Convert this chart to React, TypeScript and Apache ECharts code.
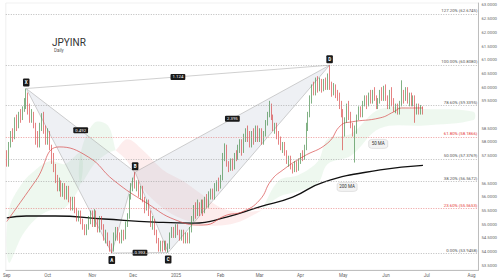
import React, { useEffect, useRef } from 'react';
import * as echarts from 'echarts';

// ---------- DATA ----------
// daily candles [open, close, low, high], from 2 Sep 2024 (weekdays)
const candles: number[][] = [
  [57.6, 57.2, 57.1, 57.7], [57.2, 57.9, 57.1, 58.0], [57.9, 58.3, 57.8, 58.4], [58.3, 58.2, 58.0, 58.5],
  [58.2, 58.8, 58.1, 58.9], [58.8, 58.6, 58.4, 59.0], [58.6, 59.0, 58.5, 59.1], [59.0, 58.9, 58.7, 59.2],
  [58.9, 59.2, 58.8, 59.3], [59.2, 59.5, 59.1, 59.6], [59.5, 59.7, 59.2, 59.95], [59.7, 59.2, 59.0, 59.8],
  [59.2, 58.9, 58.7, 59.4], [58.9, 59.0, 58.7, 59.2], [59.0, 58.6, 58.5, 59.1], [58.6, 58.1, 57.9, 58.7],
  [58.1, 57.9, 57.8, 58.4], [57.9, 58.6, 57.8, 58.7], [58.6, 59.0, 58.4, 59.05], [59.0, 58.4, 58.3, 59.1],
  [58.4, 58.0, 57.9, 58.6],
  [58.0, 58.3, 57.9, 58.5], [58.3, 57.8, 57.7, 58.4], [57.8, 57.4, 57.2, 57.9], [57.4, 57.1, 56.9, 57.6],
  [57.1, 56.6, 56.5, 57.2], [56.6, 56.4, 56.2, 56.8], [56.4, 56.5, 56.2, 56.7], [56.5, 56.2, 56.0, 56.6],
  [56.2, 56.4, 56.0, 56.5], [56.4, 56.1, 55.9, 56.5], [56.1, 56.3, 55.9, 56.4], [56.3, 55.9, 55.8, 56.4],
  [55.9, 55.7, 55.5, 56.0], [55.7, 55.9, 55.5, 56.0], [55.9, 55.5, 55.4, 56.0], [55.5, 55.3, 55.1, 55.6],
  [55.3, 55.4, 55.1, 55.5], [55.4, 55.1, 55.0, 55.5], [55.1, 54.9, 54.8, 55.2], [54.9, 54.7, 54.6, 55.0],
  [54.7, 54.85, 54.6, 55.0], [54.85, 55.2, 54.8, 55.3], [55.2, 55.4, 55.0, 55.5],
  [55.4, 55.0, 54.9, 55.5], [55.0, 55.4, 54.9, 55.55], [55.4, 55.1, 54.9, 55.5], [55.1, 54.8, 54.7, 55.2],
  [54.8, 55.2, 54.7, 55.3], [55.2, 54.9, 54.8, 55.3], [54.9, 54.5, 54.4, 55.0], [54.5, 54.6, 54.3, 54.8],
  [54.6, 54.3, 54.2, 54.7], [54.3, 54.15, 54.0, 54.4], [54.15, 54.1, 53.95, 54.3], [54.1, 54.6, 54.0, 54.7],
  [54.6, 54.8, 54.4, 54.9], [54.8, 54.5, 54.4, 54.9], [54.5, 54.4, 54.3, 54.7], [54.4, 54.7, 54.3, 54.8],
  [54.7, 54.5, 54.4, 54.8], [54.5, 55.0, 54.45, 55.1], [55.0, 55.3, 54.9, 55.4], [55.3, 56.0, 55.2, 56.1],
  [56.0, 56.3, 55.9, 56.5],
  [56.3, 56.6, 56.2, 56.7], [56.6, 56.4, 56.3, 56.9], [56.4, 56.5, 56.2, 56.6], [56.5, 56.1, 56.0, 56.6],
  [56.1, 56.3, 55.9, 56.4], [56.3, 55.9, 55.8, 56.4], [55.9, 55.6, 55.4, 56.0], [55.6, 55.8, 55.5, 55.9],
  [55.8, 55.4, 55.3, 55.9], [55.4, 55.0, 54.9, 55.5], [55.0, 55.1, 54.8, 55.3], [55.1, 54.7, 54.6, 55.2],
  [54.7, 54.4, 54.3, 54.8], [54.4, 54.1, 54.0, 54.5], [54.1, 54.3, 54.0, 54.4], [54.3, 54.1, 54.0, 54.4],
  [54.1, 54.3, 54.05, 54.4], [54.3, 54.1, 54.0, 54.4], [54.1, 54.2, 53.97, 54.3], [54.2, 54.6, 54.1, 54.7],
  [54.6, 54.8, 54.5, 54.9], [54.8, 54.6, 54.5, 54.9],
  [54.6, 54.9, 54.5, 55.0], [54.9, 54.7, 54.6, 55.0], [54.7, 54.5, 54.4, 54.8], [54.5, 54.7, 54.4, 54.8],
  [54.7, 54.45, 54.3, 54.8], [54.45, 54.6, 54.3, 54.7], [54.6, 54.4, 54.3, 54.7], [54.4, 54.8, 54.3, 54.9],
  [54.8, 55.2, 54.7, 55.3], [55.2, 55.6, 55.1, 55.7], [55.6, 55.4, 55.2, 55.8], [55.4, 55.7, 55.3, 55.9],
  [55.7, 55.5, 55.3, 55.8], [55.5, 55.8, 55.4, 55.9], [55.8, 55.5, 55.3, 55.9], [55.5, 55.9, 55.4, 56.0],
  [55.9, 55.7, 55.6, 56.1], [55.7, 56.0, 55.6, 56.2], [56.0, 56.2, 55.9, 56.3], [56.2, 56.0, 55.9, 56.3],
  [56.0, 56.3, 55.9, 56.5], [56.3, 56.5, 56.2, 56.6], [56.5, 56.4, 56.2, 56.7],
  [56.4, 56.7, 56.3, 56.8], [56.7, 57.5, 56.6, 57.6], [57.5, 57.8, 57.3, 57.95], [57.8, 57.2, 57.1, 57.9],
  [57.2, 57.0, 56.9, 57.3], [57.0, 57.3, 56.95, 57.4], [57.3, 57.1, 56.95, 57.4], [57.1, 57.5, 57.0, 57.6],
  [57.5, 57.4, 57.3, 57.7], [57.4, 57.8, 57.35, 57.9], [57.8, 58.0, 57.6, 58.1], [58.0, 57.7, 57.5, 58.1],
  [57.7, 58.1, 57.6, 58.3], [58.1, 58.4, 58.0, 58.5], [58.4, 58.2, 58.0, 58.6], [58.2, 57.9, 57.8, 58.4],
  [57.9, 58.3, 57.8, 58.4], [58.3, 58.1, 57.9, 58.5], [58.1, 58.5, 58.0, 58.6], [58.5, 58.2, 58.0, 58.6],
  [58.2, 58.4, 58.0, 58.5], [58.4, 58.0, 57.9, 58.5], [58.0, 58.3, 57.9, 58.4], [58.3, 58.7, 58.2, 58.8],
  [58.7, 59.0, 58.6, 59.1], [59.0, 59.3, 58.9, 59.5], [59.3, 58.9, 58.8, 59.4], [58.9, 58.5, 58.4, 59.0],
  [58.5, 58.6, 58.3, 58.7], [58.6, 58.2, 58.1, 58.7], [58.2, 58.0, 57.9, 58.4], [58.0, 57.8, 57.7, 58.2],
  [57.8, 57.9, 57.6, 58.0], [57.9, 57.6, 57.5, 58.0], [57.6, 57.3, 57.2, 57.7], [57.3, 57.4, 57.1, 57.5],
  [57.4, 57.1, 57.0, 57.5], [57.1, 57.0, 56.85, 57.2], [57.0, 57.2, 56.9, 57.3], [57.2, 57.0, 56.9, 57.3],
  [57.0, 57.3, 56.95, 57.4],
  [57.3, 57.5, 57.2, 57.6], [57.5, 57.4, 57.3, 57.7], [57.4, 57.8, 57.35, 57.9], [57.8, 58.6, 57.7, 58.7],
  [58.6, 59.0, 58.4, 59.1], [59.0, 59.6, 58.9, 59.7], [59.6, 60.0, 59.4, 60.1], [60.0, 59.8, 59.7, 60.2],
  [59.8, 60.2, 59.7, 60.35], [60.2, 60.0, 59.8, 60.4], [60.0, 60.25, 59.85, 60.35], [60.25, 59.9, 59.8, 60.3],
  [59.9, 60.2, 59.85, 60.3], [60.2, 60.0, 59.9, 60.35], [60.0, 60.3, 59.9, 60.5], [60.3, 60.1, 59.9, 60.8],
  [60.1, 59.8, 59.65, 60.2], [59.8, 60.05, 59.7, 60.15], [60.05, 59.8, 59.6, 60.1], [59.8, 59.6, 59.5, 59.9],
  [59.6, 59.4, 59.2, 59.8], [59.4, 59.1, 58.9, 59.5],
  [59.1, 58.3, 57.7, 59.2], [58.3, 58.8, 58.2, 58.9], [58.8, 59.2, 58.7, 59.4], [59.2, 59.0, 58.8, 59.5],
  [59.0, 58.6, 58.5, 59.1], [58.6, 58.3, 58.2, 58.7], [58.3, 58.4, 57.25, 58.6], [58.4, 58.9, 58.3, 59.0],
  [58.9, 59.2, 58.8, 59.3], [59.2, 59.0, 58.9, 59.3], [59.0, 59.4, 58.9, 59.5], [59.4, 59.6, 59.3, 59.7],
  [59.6, 59.4, 59.2, 59.7], [59.4, 59.7, 59.3, 59.8], [59.7, 59.5, 59.4, 59.9], [59.5, 59.8, 59.4, 59.9],
  [59.8, 59.6, 59.5, 60.0], [59.6, 59.3, 59.2, 59.7], [59.3, 59.5, 59.2, 59.6], [59.5, 59.8, 59.4, 59.9],
  [59.8, 59.6, 59.5, 60.0], [59.6, 59.9, 59.5, 60.05],
  [59.9, 59.6, 59.5, 60.1], [59.6, 59.3, 59.2, 59.7], [59.3, 59.8, 59.2, 59.9], [59.8, 59.5, 59.3, 60.0],
  [59.5, 59.2, 59.1, 59.6], [59.2, 59.3, 59.05, 59.4], [59.3, 59.1, 59.0, 59.4], [59.1, 59.4, 59.0, 59.5],
  [59.4, 59.8, 59.3, 60.25], [59.8, 59.6, 59.4, 59.9], [59.6, 59.9, 59.5, 60.0], [59.9, 59.5, 59.4, 60.0],
  [59.5, 59.7, 59.3, 59.8], [59.7, 59.4, 59.3, 59.8], [59.4, 59.6, 59.3, 59.7], [59.6, 59.2, 58.7, 59.7],
  [59.2, 59.3, 59.0, 59.4], [59.3, 59.1, 59.0, 59.4], [59.1, 59.25, 59.0, 59.35], [59.25, 59.1, 59.0, 59.3],
];

// moving averages, read at sample candles (candle index -> value)
const ma50Idx = [0, 15, 27, 42, 55, 72, 87, 101, 113, 121, 130, 136, 142, 152, 165, 172, 177, 192, 199, 203, 214];
const ma50Val = [55.1, 56.6, 57.82, 57.45, 56.6, 55.77, 55.15, 54.97, 55.33, 55.45, 55.88, 56.6, 56.98, 57.45, 57.96, 58.62, 58.73, 58.88, 59.1, 59.24, 59.24];
const ma200Idx = [0, 10, 25, 50, 76, 96, 113, 130, 147, 163, 192, 214];
const ma200Val = [55.23, 55.3, 55.3, 55.19, 55.08, 55.04, 55.26, 55.63, 55.99, 56.54, 56.98, 57.1468];

// Ichimoku-style cloud segments
const cloudIdx = [
  [1, 8, 15, 22, 30, 38],
  [38, 45, 52, 56],
  [56, 62, 70, 80, 90, 100, 110, 120, 131],
  [131, 140, 150, 160, 165, 177, 192, 215, 240],
];
const cloudUpper = [
  [55.5, 56.5, 57.0, 57.3, 57.2, 57.6],
  [57.6, 58.7, 58.6, 57.7],
  [57.7, 58.1, 57.7, 57.0, 56.6, 56.1, 55.6, 55.45, 55.5],
  [55.5, 56.6, 56.8, 57.3, 58.1, 58.3, 59.2, 59.2, 59.1],
];
const cloudLower = [
  [53.6, 54.6, 55.2, 55.5, 55.6, 56.5],
  [56.5, 57.2, 57.6, 57.7],
  [57.7, 57.3, 56.3, 55.6, 55.2, 55.0, 54.95, 55.1, 55.5],
  [55.5, 56.0, 56.2, 56.5, 57.2, 57.5, 58.5, 58.6, 58.8],
];
const cloudBull = [true, true, false, true];

// harmonic pattern points
const patternNames = ['X', 'A', 'B', 'C', 'D'];
const patternIdx = [10, 54, 66, 83, 166];
const patternPrice = [59.95, 53.95, 56.9, 53.97, 60.8];
const ratioLabels = ['0.492', '0.993', '2.395', '1.124']; // on XB, AC, BD, XD

// fibonacci retracement
const fibLow = 53.9458;
const fibHigh = 60.808;
const fibLevels = [0, 0.236, 0.382, 0.5, 0.618, 0.786, 1, 1.272];
const fibRed = [0.236, 0.618];

// right-axis tick labels (59.0 and 57.0 sit under the price tags)
const yTicks = [53.5, 54, 54.5, 55, 55.5, 56, 56.5, 57.5, 58, 58.5, 59.5, 60, 60.5, 61, 61.5, 62, 62.5, 63];
const lastPrice = 59.1;
const lastPriceText = '59.1052\n59.10000';
const ma200Last = 57.1468;

// ---------- helpers ----------
const MONTHS = ['Jan', 'Feb', 'Mar', 'Apr', 'May', 'Jun', 'Jul', 'Aug', 'Sep', 'Oct', 'Nov', 'Dec'];
function buildDays(n: number): string[] {
  const out: string[] = [];
  const d = new Date(Date.UTC(2024, 8, 2));
  while (out.length < n) {
    const wd = d.getUTCDay();
    if (wd !== 0 && wd !== 6) out.push(d.toISOString().slice(0, 10));
    d.setUTCDate(d.getUTCDate() + 1);
  }
  return out;
}
const days = buildDays(243);
const isMonthStart = (i: number) => i === 0 || days[i].slice(5, 7) !== days[i - 1].slice(5, 7);
const sparse = (idx: number[], val: number[]) => {
  const arr: (number | null)[] = days.map(() => null);
  idx.forEach((ix, k) => { arr[ix] = val[k]; });
  return arr;
};

const FONT = 'Roboto, sans-serif';

export default function App() {
  const ref = useRef<HTMLDivElement>(null);
  useEffect(() => {
    document.body.style.margin = '0';
    const chart = echarts.init(ref.current!, null, { renderer: 'svg' });

    const fibMarks = fibLevels.map((l) => {
      const v = fibLow + l * (fibHigh - fibLow);
      const red = fibRed.includes(l);
      return {
        yAxis: v,
        lineStyle: { color: red ? '#e57373' : '#9e9e9e', type: [1, 1.5], width: 0.7 },
        label: {
          show: true, position: 'insideEndTop', distance: 1,
          formatter: `${(l * 100).toFixed(2)}% (${v.toFixed(4)})`,
          fontSize: 4.3, color: red ? '#e53935' : '#555', fontFamily: FONT,
        },
      };
    });

    const option: any = {
      animation: false,
      backgroundColor: '#fff',
      textStyle: { fontFamily: FONT },
      grid: { left: 0, right: 21, top: 3, bottom: 10, show: true, borderColor: '#e0e0e0', borderWidth: 0.5 },
      xAxis: {
        type: 'category', data: days, boundaryGap: true,
        axisLine: { lineStyle: { color: '#999', width: 0.6 } },
        axisTick: { show: false },
        splitLine: { show: false },
        axisLabel: {
          interval: (i: number) => isMonthStart(i),
          formatter: (v: string) => {
            const m = parseInt(v.slice(5, 7), 10) - 1;
            return m === 0 ? v.slice(0, 4) : MONTHS[m];
          },
          alignMinLabel: 'center',
          fontSize: 4.5, color: '#666', margin: 3,
        },
      },
      yAxis: {
        type: 'value', position: 'right', min: 53.33, max: 63.07, scale: true,
        axisLine: { show: true, lineStyle: { color: '#999', width: 0.6 } },
        axisTick: { show: false },
        splitLine: { show: false },
        axisLabel: {
          customValues: yTicks,
          formatter: (v: number) => v.toFixed(4),
          fontSize: 4.3, color: '#666', margin: 3,
        },
      },
      graphic: [
        { type: 'text', left: 52, top: 37, style: { text: 'JPYINR', fontSize: 10, fill: '#333', fontFamily: FONT } },
        { type: 'text', left: 54, top: 48, style: { text: 'Daily', fontSize: 4.5, fill: '#555', fontFamily: FONT } },
      ],
      series: [
        {
          type: 'custom', name: 'cloud', z: 1, silent: true,
          data: cloudIdx.map((s, i) => [s[0], cloudUpper[i][0]]),
          renderItem: (params: any, api: any) => {
            const k = params.dataIndex;
            const up = cloudIdx[k].map((ix, j) => api.coord([ix, cloudUpper[k][j]]));
            const lo = cloudIdx[k].map((ix, j) => api.coord([ix, cloudLower[k][j]])).reverse();
            return {
              type: 'polygon',
              shape: { points: up.concat(lo), smooth: 0.35 },
              style: { fill: cloudBull[k] ? 'rgba(102,187,106,0.11)' : 'rgba(239,83,80,0.10)', stroke: 'none' },
            };
          },
        },
        {
          type: 'custom', name: 'pattern', z: 2, silent: true,
          data: [[patternIdx[0], patternPrice[0]]],
          renderItem: (params: any, api: any) => {
            const p = patternIdx.map((ix, i) => api.coord([ix, patternPrice[i]]));
            const [X, A, B, C, D] = p;
            const fill = 'rgba(176,186,206,0.22)';
            const stroke = '#a0a0a0';
            const children: any[] = [
              { type: 'polygon', shape: { points: [X, A, B] }, style: { fill, stroke: 'none' } },
              { type: 'polygon', shape: { points: [B, C, D] }, style: { fill, stroke: 'none' } },
            ];
            const pairs = [[X, A], [A, B], [B, C], [C, D], [X, B], [B, D], [A, C], [X, D]];
            pairs.forEach(([a, b]) => children.push({
              type: 'line', shape: { x1: a[0], y1: a[1], x2: b[0], y2: b[1] },
              style: { stroke, lineWidth: 0.5 },
            }));
            const mids = [[X, B], [A, C], [B, D], [X, D]];
            mids.forEach(([a, b], i) => children.push({
              type: 'text', x: (a[0] + b[0]) / 2, y: (a[1] + b[1]) / 2,
              style: {
                text: ratioLabels[i], fontSize: 4.3, fill: '#fff', backgroundColor: '#1a1a1a',
                padding: [1, 2], borderRadius: 1, align: 'center', verticalAlign: 'middle', fontFamily: FONT,
              },
            }));
            const above = [true, false, true, false, true];
            p.forEach((pt, i) => children.push({
              type: 'text', x: pt[0], y: pt[1] + (above[i] ? -6 : 7),
              style: {
                text: patternNames[i], fontSize: 4.5, fill: '#fff', backgroundColor: '#1a1a1a',
                padding: [1.5, 1.8], borderRadius: 1, align: 'center', verticalAlign: 'middle',
                fontWeight: 'bold', fontFamily: FONT,
              },
            }));
            return { type: 'group', children };
          },
        },
        {
          type: 'line', name: 'MA200', z: 3, data: sparse(ma200Idx, ma200Val), connectNulls: true, smooth: true,
          symbol: 'none', lineStyle: { color: '#111', width: 1.3 },
          markPoint: {
            symbol: 'roundRect', symbolSize: [20, 9], silent: true,
            itemStyle: { color: '#f3f3f3', borderColor: '#cfcfcf', borderWidth: 0.5 },
            label: { show: true, formatter: '200 MA', fontSize: 4.5, color: '#333' },
            data: [{ coord: [175, 56.36] }],
          },
          markLine: {
            symbol: 'none', silent: true,
            data: [{
              yAxis: ma200Last, lineStyle: { opacity: 0 },
              label: {
                show: true, position: 'end', distance: 1, formatter: ma200Last.toFixed(4),
                backgroundColor: '#111', color: '#fff', fontSize: 4.3, padding: [1.2, 1.5],
              },
            }],
          },
        },
        {
          type: 'line', name: 'MA50', z: 3, data: sparse(ma50Idx, ma50Val), connectNulls: true, smooth: true,
          symbol: 'none', lineStyle: { color: '#d84a4a', width: 0.7 },
          markPoint: {
            symbol: 'roundRect', symbolSize: [19, 9], silent: true,
            itemStyle: { color: '#f3f3f3', borderColor: '#cfcfcf', borderWidth: 0.5 },
            label: { show: true, formatter: '50 MA', fontSize: 4.5, color: '#333' },
            data: [{ coord: [191, 57.93] }],
          },
        },
        {
          type: 'candlestick', name: 'JPYINR', z: 4, data: candles, barWidth: '62%',
          itemStyle: {
            color: '#2e7d32', color0: '#d32f2f', borderColor: '#2e7d32', borderColor0: '#d32f2f', borderWidth: 0.6,
          },
          markLine: {
            symbol: 'none', silent: true,
            data: [
              ...fibMarks,
              {
                yAxis: lastPrice, lineStyle: { opacity: 0 },
                label: {
                  show: true, position: 'end', distance: 1, formatter: lastPriceText,
                  backgroundColor: '#e53935', color: '#fff', fontSize: 4.3, padding: [1, 1.5], lineHeight: 5,
                },
              },
            ],
          },
        },
      ],
    };
    chart.setOption(option);
    return () => chart.dispose();
  }, []);
  return <div ref={ref} style={{ width: 500, height: 280 }} />;
}
